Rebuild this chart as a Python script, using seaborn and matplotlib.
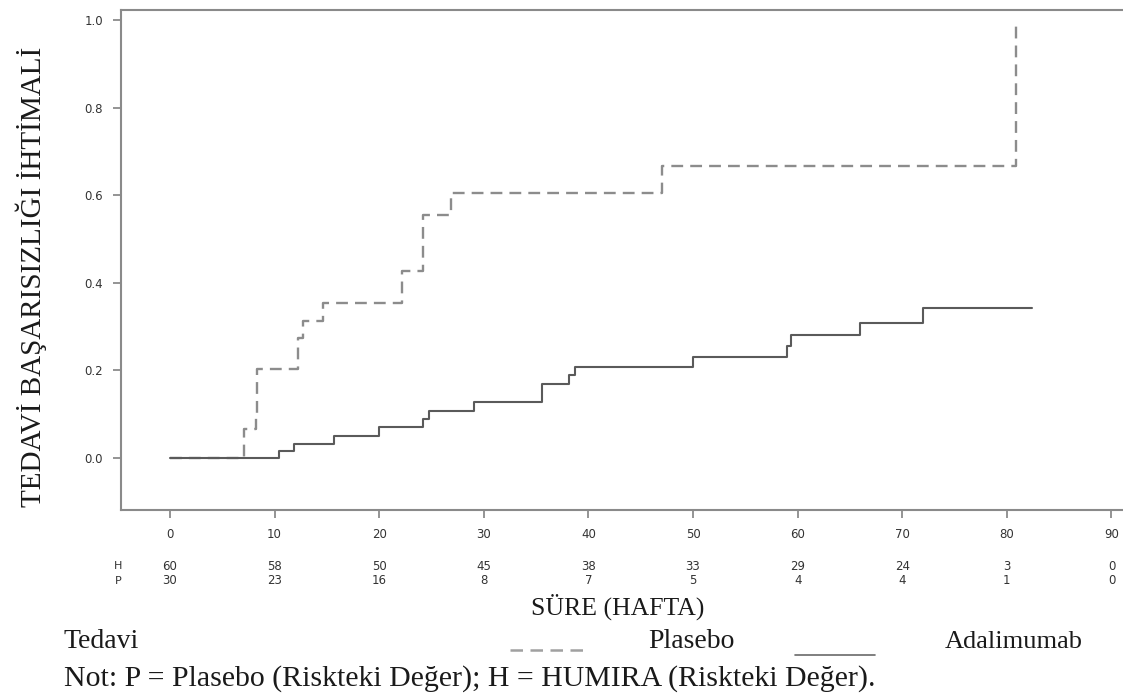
import matplotlib
matplotlib.use("Agg")
import matplotlib.pyplot as plt
import matplotlib.transforms as mtransforms
from matplotlib.lines import Line2D
import seaborn as sns
import pandas as pd

# ---- data ----
placebo_time = [0, 7.1, 8.2, 8.35, 12.2, 12.7, 14.6, 22.2, 24.2, 26.9, 47.0, 80.85]
placebo_prob = [0, 0.066, 0.10, 0.203, 0.274, 0.314, 0.354, 0.428, 0.555, 0.606, 0.668, 1.0]
adalimumab_time = [0, 10.45, 11.85, 15.7, 20.0, 24.2, 24.8, 29.1, 35.6, 38.1, 38.7,
                   50.0, 59.0, 59.4, 66.0, 72.0, 82.4]
adalimumab_prob = [0, 0.017, 0.033, 0.05, 0.07, 0.09, 0.107, 0.128, 0.17, 0.189, 0.207,
                   0.23, 0.255, 0.28, 0.308, 0.342, 0.342]
risk_times = [0, 10, 20, 30, 40, 50, 60, 70, 80, 90]
risk_H = [60, 58, 50, 45, 38, 33, 29, 24, 3, 0]
risk_P = [30, 23, 16, 8, 7, 5, 4, 4, 1, 0]
y_ticks = [0.0, 0.2, 0.4, 0.6, 0.8, 1.0]

sns.set_theme(style="white")
plt.rcParams['font.family'] = ['DejaVu Sans']
SERIF = ['Liberation Serif', 'DejaVu Serif']
TXT = '#1a1a1a'
SMALL = '#333333'

W, H = 1123, 696
fig = plt.figure(figsize=(W / 100, H / 100), dpi=100)
fig.patch.set_facecolor('white')

def fx(px):
    return px / W

def fy(py):
    return 1 - py / H

ax = fig.add_axes([fx(121), fy(510), fx(1123) - fx(121), fy(10) - fy(510)])
ax.set_facecolor('white')

df_p = pd.DataFrame({'t': placebo_time, 'p': placebo_prob})
df_a = pd.DataFrame({'t': adalimumab_time, 'p': adalimumab_prob})

sns.lineplot(data=df_p, x='t', y='p', ax=ax, drawstyle='steps-post', color='#8c8c8c',
             linewidth=1.7, linestyle=(0, (5, 3)), estimator=None, sort=False)
sns.lineplot(data=df_a, x='t', y='p', ax=ax, drawstyle='steps-post', color='#5a5a5a',
             linewidth=1.5, estimator=None, sort=False)

ax.set_xlim(-4.68, 91.1)
ax.set_ylim(-0.119, 1.024)
ax.set_xticks(risk_times)
ax.set_xticklabels([str(t) for t in risk_times], fontsize=8.5, color=SMALL)
ax.set_yticks(y_ticks)
ax.set_yticklabels([f"{v:.1f}" for v in y_ticks], fontsize=8.5, color=SMALL)
ax.tick_params(axis='both', which='both', direction='out', length=6, width=1.1,
               color='#777777', left=True, bottom=True, pad=7)
ax.set_xlabel('')
ax.set_ylabel('')
for side in ['left', 'top', 'bottom']:
    ax.spines[side].set_color('#8a8a8a')
    ax.spines[side].set_linewidth(1.5)
ax.spines['right'].set_visible(False)

# risk table
trans = mtransforms.blended_transform_factory(ax.transData, fig.transFigure)
for t, h, p in zip(risk_times, risk_H, risk_P):
    ax.text(t, fy(566), str(h), transform=trans, ha='center', va='center',
            fontsize=8.5, color=SMALL, clip_on=False)
    ax.text(t, fy(581), str(p), transform=trans, ha='center', va='center',
            fontsize=8.5, color=SMALL, clip_on=False)
fig.text(fx(118), fy(566), 'H', ha='center', va='center', fontsize=8, color=SMALL)
fig.text(fx(118), fy(581), 'P', ha='center', va='center', fontsize=8, color=SMALL)

# axis labels
fig.text(fx(618), fy(607), 'SÜRE (HAFTA)', ha='center', va='center',
         fontsize=18.5, family=SERIF, color=TXT)
fig.text(fx(31), fy(277), 'TEDAVİ BAŞARISIZLIĞI İHTİMALİ', ha='center', va='center',
         rotation=90, fontsize=21, family=SERIF, color=TXT)

# legend row
fig.text(fx(64), fy(642), 'Tedavi', ha='left', va='center', fontsize=20,
         family=SERIF, color=TXT)
fig.add_artist(Line2D([fx(510), fx(589)], [fy(650), fy(650)], transform=fig.transFigure,
                      color='#a0a0a0', linewidth=1.8, linestyle=(0, (5, 3))))
fig.text(fx(648), fy(642), 'Plasebo', ha='left', va='center', fontsize=20,
         family=SERIF, color=TXT)
fig.add_artist(Line2D([fx(795), fx(875)], [fy(655), fy(655)], transform=fig.transFigure,
                      color='#6a6a6a', linewidth=1.2))
fig.text(fx(1083), fy(642), 'Adalimumab', ha='right', va='center', fontsize=19,
         family=SERIF, color=TXT)
fig.text(fx(64), fy(679), 'Not: P = Plasebo (Riskteki Değer); H = HUMIRA (Riskteki Değer).',
         ha='left', va='center', fontsize=21.5, family=SERIF, color=TXT)

fig.savefig('out.png', dpi=100, facecolor='white')
